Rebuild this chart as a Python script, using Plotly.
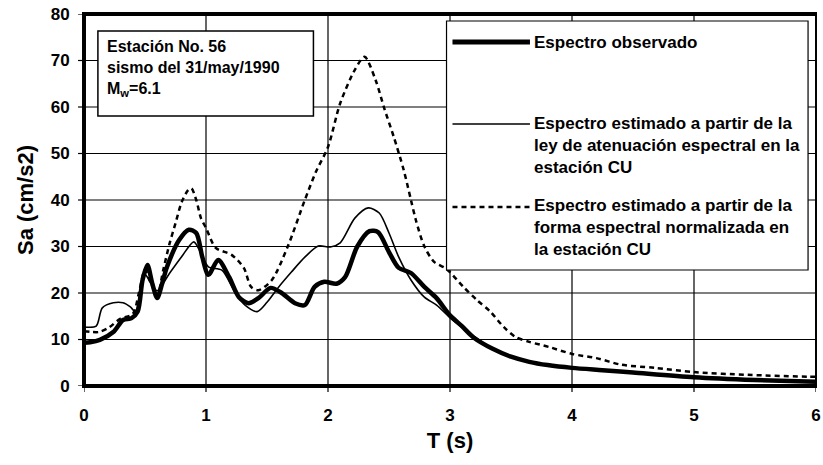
import plotly.graph_objects as go

# ---- data ----
T_obs = [0, 0.05, 0.13, 0.24, 0.32, 0.39, 0.44, 0.48, 0.52, 0.56, 0.6, 0.64, 0.68, 0.78, 0.86,
         0.92, 0.97, 1.02, 1.1, 1.19, 1.27, 1.35, 1.43, 1.53, 1.62, 1.73, 1.81, 1.89, 1.97, 2.07,
         2.14, 2.24, 2.34, 2.41, 2.5, 2.58, 2.68, 2.79, 2.89, 3.0, 3.1, 3.19, 3.35, 3.5, 3.65,
         3.8, 4.0, 4.25, 4.5, 5.0, 5.5, 6.0]
Sa_obs = [9.3, 9.4, 9.9, 11.6, 14.2, 14.6, 16.0, 22.8, 26.0, 22.0, 18.9, 22.0, 25.6, 31.4, 33.6,
          32.9, 27.7, 23.9, 27.1, 23.4, 19.1, 17.8, 18.9, 21.1, 20.0, 17.8, 17.4, 21.3, 22.4, 22.0,
          23.4, 30.0, 33.3, 33.1, 28.8, 25.4, 24.3, 21.3, 18.9, 15.2, 12.8, 10.5, 8.0, 6.3, 5.2,
          4.5, 3.9, 3.4, 2.9, 1.9, 1.3, 0.9]

T_att = [0, 0.1, 0.15, 0.24, 0.32, 0.38, 0.42, 0.46, 0.5, 0.55, 0.6, 0.7, 0.8, 0.9, 0.95, 1.02,
         1.13, 1.24, 1.32, 1.42, 1.5, 1.59, 1.7, 1.81, 1.92, 2.02, 2.1, 2.22, 2.33, 2.42, 2.5,
         2.58, 2.68, 2.79, 2.89, 3.02, 3.16, 3.35, 3.5, 3.65, 3.8, 4.0, 4.25, 4.5, 5.0, 5.5, 6.0]
Sa_att = [12.7, 12.9, 16.8, 17.9, 17.9, 17.0, 16.0, 19.5, 24.0, 22.0, 20.5, 24.2, 27.8, 31.0,
          29.0, 25.6, 24.9, 20.0, 17.4, 16.0, 18.0, 21.1, 24.5, 27.7, 30.1, 29.9, 30.8, 36.1,
          38.3, 37.2, 32.9, 27.7, 22.8, 19.1, 17.4, 14.2, 11.4, 8.0, 6.2, 5.1, 4.4, 3.8, 3.3,
          2.8, 1.9, 1.3, 0.9]

T_norm = [0, 0.12, 0.2, 0.3, 0.4, 0.45, 0.5, 0.55, 0.6, 0.65, 0.7, 0.75, 0.8, 0.85, 0.88, 0.92,
          0.96, 1.0, 1.08, 1.21, 1.31, 1.37, 1.43, 1.54, 1.67, 1.81, 1.9, 2.0, 2.1, 2.22, 2.3,
          2.39, 2.46, 2.54, 2.62, 2.68, 2.72, 2.79, 2.87, 2.97, 3.11, 3.22, 3.33, 3.44, 3.54,
          3.65, 3.81, 4.0, 4.2, 4.4, 4.68, 5.0, 5.44, 5.93, 6.0]
Sa_norm = [11.8, 11.6, 12.5, 14.5, 15.5, 20.0, 25.0, 22.0, 19.5, 25.0, 30.5, 35.0, 39.5, 42.0,
           42.5, 40.0, 36.0, 34.0, 29.7, 28.2, 25.4, 21.3, 20.6, 22.8, 30.0, 40.0, 46.0, 51.4,
           60.8, 68.0, 70.8, 65.8, 59.8, 53.5, 46.5, 40.0, 35.7, 30.0, 26.7, 25.2, 21.3, 18.5,
           16.0, 12.7, 10.5, 9.5, 8.4, 6.9, 6.0, 4.6, 3.9, 3.0, 2.4, 2.0, 2.0]

x_ticks = [0, 1, 2, 3, 4, 5, 6]
y_ticks = [0, 10, 20, 30, 40, 50, 60, 70, 80]

legend_labels = [
    "Espectro observado",
    "Espectro estimado a partir de la<br>ley de atenuación espectral en la<br>estación CU",
    "Espectro estimado a partir de la<br>forma espectral normalizada en<br>la estación CU",
]
info_text = "Estación No. 56<br>sismo del 31/may/1990<br>M<sub>w</sub>=6.1"
x_title = "T (s)"
y_title = "Sa (cm/s2)"

FONT = "Liberation Sans, Arial, Helvetica, sans-serif"
DASH = "5px,4px"

fig = go.Figure()
fig.add_trace(go.Scatter(x=T_norm, y=Sa_norm, mode="lines", name=legend_labels[2],
                         line=dict(color="black", width=2.5, dash=DASH, shape="spline", smoothing=0.8)))
fig.add_trace(go.Scatter(x=T_att, y=Sa_att, mode="lines", name=legend_labels[1],
                         line=dict(color="black", width=1.6, shape="spline", smoothing=0.8)))
fig.add_trace(go.Scatter(x=T_obs, y=Sa_obs, mode="lines", name=legend_labels[0],
                         line=dict(color="black", width=4.5, shape="spline", smoothing=0.8)))

L, R, TOP, B = 84, 2, 14, 79
W, H = 823, 465
pw, ph = W - L - R, H - TOP - B

def px_x(p):
    return (p - L) / pw

def px_y(p):
    return (H - B - p) / ph

def bar(x0, x1, y0, y1):
    # filled black rectangle given in pixel coordinates
    return dict(type="rect", xref="paper", yref="paper",
                x0=px_x(x0), x1=px_x(x1), y0=px_y(y1), y1=px_y(y0),
                fillcolor="black", line=dict(width=0), layer="above")

shapes = []
annotations = []

# grid lines (drawn as shapes at the tick values)
for xv in x_ticks[1:-1]:
    shapes.append(dict(type="line", xref="x", yref="y", x0=xv, x1=xv,
                       y0=y_ticks[0], y1=y_ticks[-1],
                       line=dict(color="black", width=1.2), layer="below"))
for yv in y_ticks[1:-1]:
    shapes.append(dict(type="line", xref="x", yref="y", x0=x_ticks[0], x1=x_ticks[-1],
                       y0=yv, y1=yv,
                       line=dict(color="black", width=1.2), layer="below"))
# small outside tick marks
for xv in x_ticks:
    shapes.append(dict(type="line", xref="x", yref="paper", x0=xv, x1=xv,
                       y0=0, y1=-6 / ph, line=dict(color="black", width=1.2), layer="above"))
for yv in y_ticks:
    shapes.append(dict(type="line", xref="paper", yref="y", x0=0, x1=-6 / pw,
                       y0=yv, y1=yv, line=dict(color="black", width=1.2), layer="above"))
# plot frame as filled bars (pixel extents)
top_px, bot_px, left_px, right_px = TOP, H - B, L, W - R
shapes.append(bar(left_px - 2, right_px + 1, bot_px - 2, bot_px + 2))   # bottom
shapes.append(bar(left_px - 2, right_px + 1, top_px - 2, top_px + 2))   # top
shapes.append(bar(left_px - 2, left_px + 2, top_px - 2, bot_px + 2))    # left
shapes.append(bar(right_px - 1, right_px + 1, top_px - 2, bot_px + 2))  # right

# info box
shapes.append(dict(type="rect", xref="paper", yref="paper",
                   x0=px_x(98), x1=px_x(315), y0=px_y(116), y1=px_y(31),
                   line=dict(color="black", width=1.5), fillcolor="white", layer="above"))
annotations.append(dict(xref="paper", yref="paper", x=px_x(105), y=px_y(68.5),
                        xanchor="left", yanchor="middle", align="left", showarrow=False,
                        text=info_text,
                        font=dict(family=FONT, size=16, color="black", weight="bold")))

# legend box
shapes.append(dict(type="rect", xref="paper", yref="paper",
                   x0=px_x(449), x1=px_x(813), y0=px_y(270), y1=px_y(21),
                   line=dict(color="black", width=1.2), fillcolor="white", layer="above"))
sample_styles = [dict(width=5, dash="solid"), dict(width=1.6, dash="solid"), dict(width=2.5, dash=DASH)]
sample_y = [42, 124, 207]
text_y = [42, 145.5, 228]
for lab, st, sy, ty in zip(legend_labels, sample_styles, sample_y, text_y):
    shapes.append(dict(type="line", xref="paper", yref="paper",
                       x0=px_x(455), x1=px_x(533), y0=px_y(sy), y1=px_y(sy),
                       line=dict(color="black", **st), layer="above"))
    annotations.append(dict(xref="paper", yref="paper", x=px_x(535), y=px_y(ty),
                            xanchor="left", yanchor="middle", align="left", showarrow=False,
                            text=lab,
                            font=dict(family=FONT, size=17, color="black", weight="bold")))

fig.update_layout(
    width=W, height=H,
    margin=dict(l=L, r=R, t=TOP, b=B),
    paper_bgcolor="white", plot_bgcolor="rgba(0,0,0,0)",
    showlegend=False,
    shapes=shapes, annotations=annotations,
)
fig.update_xaxes(range=[0, 6], tickmode="array", tickvals=x_ticks,
                 showgrid=False, zeroline=False, showline=False,
                 ticks="outside", ticklen=14, tickwidth=1, tickcolor="rgba(0,0,0,0)",
                 ticklabeloverflow="allow",
                 tickfont=dict(family=FONT, size=17, color="black", weight="bold"),
                 title=dict(text=x_title, standoff=8,
                            font=dict(family=FONT, size=22, color="black", weight="bold")))
fig.update_yaxes(range=[0, 80], tickmode="array", tickvals=y_ticks,
                 showgrid=False, zeroline=False, showline=False,
                 ticks="outside", ticklen=10, tickwidth=1, tickcolor="rgba(0,0,0,0)",
                 tickfont=dict(family=FONT, size=17, color="black", weight="bold"),
                 title=dict(text=y_title, standoff=10,
                            font=dict(family=FONT, size=22, color="black", weight="bold")))

fig.write_html("out.html")
